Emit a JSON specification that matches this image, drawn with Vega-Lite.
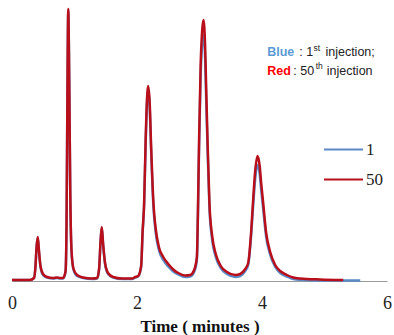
{
  "$schema": "https://vega.github.io/schema/vega-lite/v6.json",
  "width": 375,
  "height": 281,
  "autosize": {"type": "none"},
  "padding": {"left": 12, "top": 0, "right": 7, "bottom": 54},
  "background": "white",
  "config": {"view": {"stroke": null}},
  "datasets": {
    "trace": [
      {"run": "1", "t": 0, "h": 1}, {"run": "1", "t": 0.288, "h": 1}, {"run": "1", "t": 0.352, "h": 3}, {"run": "1", "t": 0.376, "h": 15}, {"run": "1", "t": 0.392, "h": 33}, {"run": "1", "t": 0.412, "h": 43}, {"run": "1", "t": 0.432, "h": 29}, {"run": "1", "t": 0.456, "h": 14}, {"run": "1", "t": 0.496, "h": 6}, {"run": "1", "t": 0.56, "h": 3.5}, {"run": "1", "t": 0.657, "h": 2.5}, {"run": "1", "t": 0.721, "h": 3}, {"run": "1", "t": 0.769, "h": 2.5}, {"run": "1", "t": 0.817, "h": 2.5}, {"run": "1", "t": 0.857, "h": 9}, {"run": "1", "t": 0.873, "h": 58}, {"run": "1", "t": 0.886, "h": 178}, {"run": "1", "t": 0.9, "h": 270}, {"run": "1", "t": 0.916, "h": 198}, {"run": "1", "t": 0.932, "h": 88}, {"run": "1", "t": 0.953, "h": 28}, {"run": "1", "t": 0.985, "h": 11}, {"run": "1", "t": 1.041, "h": 5}, {"run": "1", "t": 1.137, "h": 3}, {"run": "1", "t": 1.281, "h": 2}, {"run": "1", "t": 1.361, "h": 2.5}, {"run": "1", "t": 1.393, "h": 11}, {"run": "1", "t": 1.417, "h": 39}, {"run": "1", "t": 1.436, "h": 53}, {"run": "1", "t": 1.457, "h": 37}, {"run": "1", "t": 1.489, "h": 17}, {"run": "1", "t": 1.537, "h": 7}, {"run": "1", "t": 1.617, "h": 3.5}, {"run": "1", "t": 1.761, "h": 2}, {"run": "1", "t": 1.922, "h": 2}, {"run": "1", "t": 1.97, "h": 3.5}, {"run": "1", "t": 2.018, "h": 4.5}, {"run": "1", "t": 2.066, "h": 14}, {"run": "1", "t": 2.09, "h": 48}, {"run": "1", "t": 2.114, "h": 76}, {"run": "1", "t": 2.138, "h": 136}, {"run": "1", "t": 2.162, "h": 180}, {"run": "1", "t": 2.178, "h": 190}, {"run": "1", "t": 2.202, "h": 175}, {"run": "1", "t": 2.226, "h": 130}, {"run": "1", "t": 2.263, "h": 74}, {"run": "1", "t": 2.3, "h": 48}, {"run": "1", "t": 2.35, "h": 31}, {"run": "1", "t": 2.42, "h": 21}, {"run": "1", "t": 2.5, "h": 14.5}, {"run": "1", "t": 2.58, "h": 9.5}, {"run": "1", "t": 2.66, "h": 6.5}, {"run": "1", "t": 2.77, "h": 4}, {"run": "1", "t": 2.85, "h": 4.5}, {"run": "1", "t": 2.914, "h": 9}, {"run": "1", "t": 2.958, "h": 21}, {"run": "1", "t": 2.975, "h": 65}, {"run": "1", "t": 2.994, "h": 136}, {"run": "1", "t": 3.018, "h": 204}, {"run": "1", "t": 3.042, "h": 237}, {"run": "1", "t": 3.063, "h": 246}, {"run": "1", "t": 3.09, "h": 222}, {"run": "1", "t": 3.106, "h": 184}, {"run": "1", "t": 3.127, "h": 136}, {"run": "1", "t": 3.159, "h": 73}, {"run": "1", "t": 3.203, "h": 41}, {"run": "1", "t": 3.26, "h": 24}, {"run": "1", "t": 3.34, "h": 13}, {"run": "1", "t": 3.44, "h": 7}, {"run": "1", "t": 3.571, "h": 4}, {"run": "1", "t": 3.651, "h": 5}, {"run": "1", "t": 3.731, "h": 10}, {"run": "1", "t": 3.779, "h": 16}, {"run": "1", "t": 3.827, "h": 46}, {"run": "1", "t": 3.855, "h": 72}, {"run": "1", "t": 3.891, "h": 102}, {"run": "1", "t": 3.928, "h": 116}, {"run": "1", "t": 3.963, "h": 107}, {"run": "1", "t": 3.987, "h": 91}, {"run": "1", "t": 4.019, "h": 72}, {"run": "1", "t": 4.067, "h": 44}, {"run": "1", "t": 4.131, "h": 26}, {"run": "1", "t": 4.211, "h": 14}, {"run": "1", "t": 4.291, "h": 8}, {"run": "1", "t": 4.399, "h": 4.5}, {"run": "1", "t": 4.5, "h": 2}, {"run": "1", "t": 4.612, "h": 1.2}, {"run": "1", "t": 4.932, "h": 0.6}, {"run": "1", "t": 5.3, "h": 0.5}, {"run": "1", "t": 5.572, "h": 0.4},
      {"run": "50", "t": 0, "h": 1}, {"run": "50", "t": 0.288, "h": 1}, {"run": "50", "t": 0.352, "h": 3}, {"run": "50", "t": 0.376, "h": 15}, {"run": "50", "t": 0.392, "h": 33}, {"run": "50", "t": 0.412, "h": 44}, {"run": "50", "t": 0.432, "h": 30}, {"run": "50", "t": 0.456, "h": 15}, {"run": "50", "t": 0.496, "h": 7}, {"run": "50", "t": 0.56, "h": 4}, {"run": "50", "t": 0.657, "h": 3}, {"run": "50", "t": 0.721, "h": 3.5}, {"run": "50", "t": 0.769, "h": 3}, {"run": "50", "t": 0.817, "h": 3}, {"run": "50", "t": 0.857, "h": 10}, {"run": "50", "t": 0.873, "h": 60}, {"run": "50", "t": 0.886, "h": 180}, {"run": "50", "t": 0.9, "h": 272}, {"run": "50", "t": 0.916, "h": 200}, {"run": "50", "t": 0.932, "h": 90}, {"run": "50", "t": 0.953, "h": 30}, {"run": "50", "t": 0.985, "h": 12}, {"run": "50", "t": 1.041, "h": 6}, {"run": "50", "t": 1.137, "h": 3.5}, {"run": "50", "t": 1.281, "h": 2.5}, {"run": "50", "t": 1.361, "h": 3}, {"run": "50", "t": 1.393, "h": 12}, {"run": "50", "t": 1.417, "h": 40}, {"run": "50", "t": 1.436, "h": 54}, {"run": "50", "t": 1.457, "h": 38}, {"run": "50", "t": 1.489, "h": 18}, {"run": "50", "t": 1.537, "h": 8}, {"run": "50", "t": 1.617, "h": 4}, {"run": "50", "t": 1.761, "h": 2.5}, {"run": "50", "t": 1.922, "h": 2.5}, {"run": "50", "t": 1.97, "h": 4}, {"run": "50", "t": 2.018, "h": 5}, {"run": "50", "t": 2.066, "h": 15}, {"run": "50", "t": 2.09, "h": 50}, {"run": "50", "t": 2.114, "h": 78}, {"run": "50", "t": 2.138, "h": 140}, {"run": "50", "t": 2.162, "h": 185}, {"run": "50", "t": 2.178, "h": 195}, {"run": "50", "t": 2.202, "h": 180}, {"run": "50", "t": 2.226, "h": 135}, {"run": "50", "t": 2.263, "h": 78}, {"run": "50", "t": 2.3, "h": 52}, {"run": "50", "t": 2.35, "h": 34}, {"run": "50", "t": 2.42, "h": 24}, {"run": "50", "t": 2.5, "h": 17}, {"run": "50", "t": 2.58, "h": 11.5}, {"run": "50", "t": 2.66, "h": 8}, {"run": "50", "t": 2.77, "h": 5.5}, {"run": "50", "t": 2.85, "h": 6}, {"run": "50", "t": 2.914, "h": 11}, {"run": "50", "t": 2.958, "h": 24}, {"run": "50", "t": 2.975, "h": 70}, {"run": "50", "t": 2.994, "h": 144}, {"run": "50", "t": 3.018, "h": 215}, {"run": "50", "t": 3.042, "h": 250}, {"run": "50", "t": 3.063, "h": 261}, {"run": "50", "t": 3.09, "h": 235}, {"run": "50", "t": 3.106, "h": 195}, {"run": "50", "t": 3.127, "h": 144}, {"run": "50", "t": 3.159, "h": 78}, {"run": "50", "t": 3.203, "h": 45}, {"run": "50", "t": 3.26, "h": 27}, {"run": "50", "t": 3.34, "h": 15}, {"run": "50", "t": 3.44, "h": 9}, {"run": "50", "t": 3.571, "h": 6}, {"run": "50", "t": 3.651, "h": 7}, {"run": "50", "t": 3.731, "h": 12}, {"run": "50", "t": 3.779, "h": 18}, {"run": "50", "t": 3.827, "h": 50}, {"run": "50", "t": 3.855, "h": 78}, {"run": "50", "t": 3.891, "h": 110}, {"run": "50", "t": 3.928, "h": 125}, {"run": "50", "t": 3.963, "h": 115}, {"run": "50", "t": 3.987, "h": 98}, {"run": "50", "t": 4.019, "h": 78}, {"run": "50", "t": 4.067, "h": 48}, {"run": "50", "t": 4.131, "h": 29}, {"run": "50", "t": 4.211, "h": 16}, {"run": "50", "t": 4.291, "h": 10}, {"run": "50", "t": 4.399, "h": 6}, {"run": "50", "t": 4.5, "h": 3.5}, {"run": "50", "t": 4.612, "h": 2.5}, {"run": "50", "t": 4.932, "h": 1.5}, {"run": "50", "t": 5.3, "h": 1}
    ]
  },
  "layer": [
    {
      "data": {"name": "trace"},
      "mark": {"type": "line", "interpolate": "monotone", "strokeWidth": 2.5},
      "encoding": {
        "x": {
          "field": "t", "type": "quantitative",
          "scale": {"domain": [0, 6], "nice": false, "zero": false},
          "axis": {
            "values": [0, 2, 4, 6], "format": "d", "ticks": false, "grid": false,
            "domainColor": "#9a9a9a", "domainWidth": 1,
            "labelFont": "Liberation Serif", "labelFontSize": 18, "labelColor": "#222",
            "labelPadding": 13, "labelFlush": false,
            "title": "Time ( minutes )", "titleFont": "Liberation Serif", "titleFontSize": 17,
            "titleFontWeight": "bold", "titleColor": "#111", "titlePadding": 6
          }
        },
        "y": {"field": "h", "type": "quantitative", "scale": {"domain": [0, 281], "nice": false}, "axis": null},
        "color": {
          "field": "run", "type": "nominal",
          "scale": {"domain": ["1", "50"], "range": ["#5A8AC6", "#B80F1A"]},
          "legend": {
            "orient": "none", "legendX": 311, "legendY": 129, "title": null,
            "symbolType": "stroke", "symbolSize": 1521, "symbolStrokeWidth": 2,
            "labelFont": "Liberation Serif", "labelFontSize": 17, "labelColor": "#222",
            "labelOffset": 2, "rowPadding": 1
          }
        }
      }
    },
    {
      "data": {"values": [{}]},
      "mark": {"type": "text", "text": "Blue", "align": "left", "baseline": "alphabetic", "font": "Liberation Sans", "fontSize": 12.5, "fontWeight": "bold", "color": "#5B9BD5"},
      "encoding": {"x": {"datum": 4.083, "type": "quantitative"}, "y": {"datum": 225, "type": "quantitative"}}
    },
    {
      "data": {"values": [{}]},
      "mark": {"type": "text", "text": ": 1", "align": "left", "baseline": "alphabetic", "font": "Liberation Sans", "fontSize": 12.5, "color": "#222"},
      "encoding": {"x": {"datum": 4.596, "type": "quantitative"}, "y": {"datum": 225, "type": "quantitative"}}
    },
    {
      "data": {"values": [{}]},
      "mark": {"type": "text", "text": "st", "align": "left", "baseline": "alphabetic", "font": "Liberation Sans", "fontSize": 8.5, "color": "#222"},
      "encoding": {"x": {"datum": 4.825, "type": "quantitative"}, "y": {"datum": 230.5, "type": "quantitative"}}
    },
    {
      "data": {"values": [{}]},
      "mark": {"type": "text", "text": "injection;", "align": "left", "baseline": "alphabetic", "font": "Liberation Sans", "fontSize": 12.5, "color": "#222"},
      "encoding": {"x": {"datum": 5.015, "type": "quantitative"}, "y": {"datum": 225, "type": "quantitative"}}
    },
    {
      "data": {"values": [{}]},
      "mark": {"type": "text", "text": "Red", "align": "left", "baseline": "alphabetic", "font": "Liberation Sans", "fontSize": 12.5, "fontWeight": "bold", "color": "#FF0000"},
      "encoding": {"x": {"datum": 4.083, "type": "quantitative"}, "y": {"datum": 206, "type": "quantitative"}}
    },
    {
      "data": {"values": [{}]},
      "mark": {"type": "text", "text": ": 50", "align": "left", "baseline": "alphabetic", "font": "Liberation Sans", "fontSize": 12.5, "color": "#222"},
      "encoding": {"x": {"datum": 4.5, "type": "quantitative"}, "y": {"datum": 206, "type": "quantitative"}}
    },
    {
      "data": {"values": [{}]},
      "mark": {"type": "text", "text": "th", "align": "left", "baseline": "alphabetic", "font": "Liberation Sans", "fontSize": 8.5, "color": "#222"},
      "encoding": {"x": {"datum": 4.86, "type": "quantitative"}, "y": {"datum": 211.7, "type": "quantitative"}}
    },
    {
      "data": {"values": [{}]},
      "mark": {"type": "text", "text": "injection", "align": "left", "baseline": "alphabetic", "font": "Liberation Sans", "fontSize": 12.5, "color": "#222"},
      "encoding": {"x": {"datum": 5.035, "type": "quantitative"}, "y": {"datum": 206, "type": "quantitative"}}
    }
  ]
}
